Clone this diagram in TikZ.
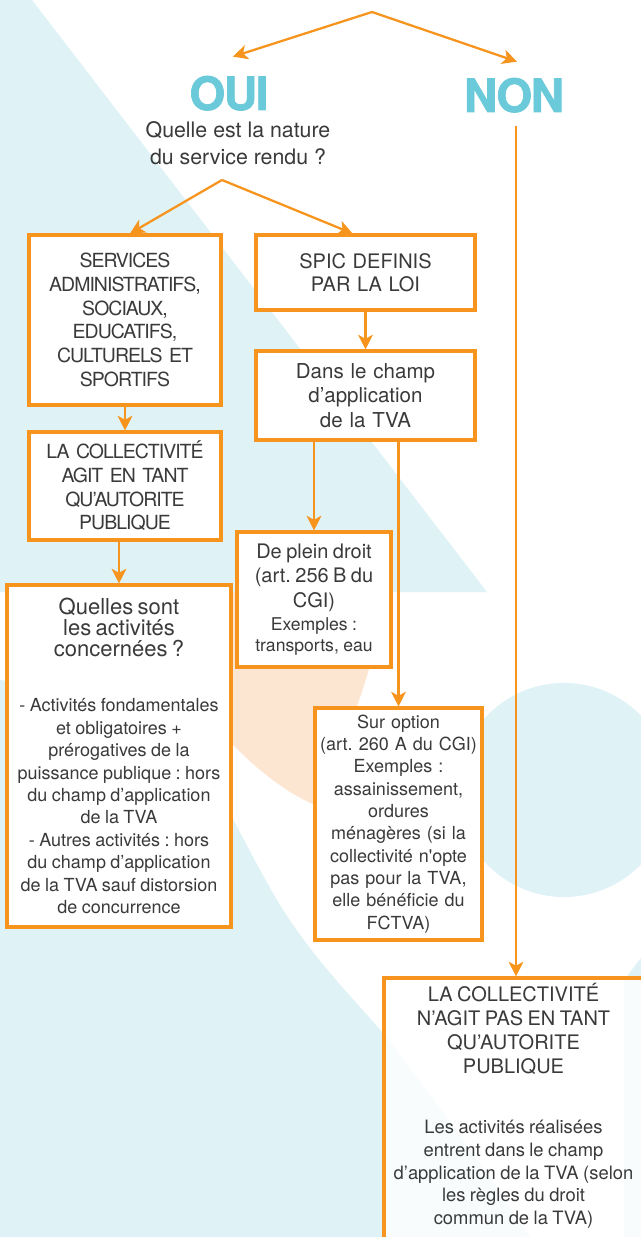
\documentclass[tikz,border=0pt]{standalone}
\usepackage{fontspec}
\setmainfont{TeX Gyre Heros}
\newfontfamily\capsfont{TeX Gyre Heros}[LetterSpace=-5]
\newfontfamily\yesnofont{TeX Gyre Heros}[LetterSpace=-3, BoldFeatures={FakeBold=1.5}]
\usetikzlibrary{arrows.meta,calc}

\definecolor{orng}{HTML}{F7941D}
\definecolor{skyblue}{HTML}{DFF2F6}
\definecolor{sand}{HTML}{FCE6D2}
\definecolor{yesblue}{HTML}{6BCAD9}
\definecolor{ink}{HTML}{3A3A3A}

\tikzset{
  box/.style={draw=orng, line width=2.3pt, fill=white, text=ink, align=center, inner xsep=2pt, inner ysep=2pt},
  capsbox/.style={box, font=\capsfont\fontsize{14.6}{17.8}\selectfont},
  lastbox/.style={box, fill opacity=0.8, text opacity=1},
  arr/.style={draw=orng, line width=1.7pt, -{Stealth[length=11pt,width=11pt,inset=3pt]}},
  yesno/.style={font=\yesnofont\bfseries\fontsize{34.5}{36}\selectfont, text=yesblue, inner sep=0pt},
}

\begin{document}
\frenchspacing
\begin{tikzpicture}[x=0.75pt,y=0.75pt,yscale=-1,xscale=1]
\useasboundingbox (0,0) rectangle (641,1237);
\clip (0,0) rectangle (641,1237);

%Background shapes
\fill[white] (0,0) rectangle (641,1237);
\fill[skyblue] (0,0) -- (32,0) -- (487,592) -- (0,592) -- cycle;
\fill[sand] (200,592) -- (385,592) .. controls (378,660) and (345,745) .. (315,805) .. controls (280,790) and (245,760) .. (215,725) -- cycle;
\fill[skyblue] (564,790) circle [radius=107];
\fill[skyblue] (0,680) -- (150,700) .. controls (200,740) and (230,820) .. (277,900) .. controls (310,955) and (350,995) .. (383,1033) .. controls (430,1095) and (480,1160) .. (530,1237) -- (0,1237) -- cycle;
\fill[skyblue] (641,958) -- (624,980) -- (624,1237) -- (641,1237) -- cycle;

% Text Node
\node[yesno, anchor=base] (oui) at (229,110) {OUI};
\node[yesno, anchor=base] (non) at (514,112) {NON};
\node[text=ink, align=center, inner sep=0pt, font=\fontsize{16}{20}\selectfont] (nature) at (238,143) {Quelle est la nature\\du service rendu ?};

\coordinate (top) at (372,12);
\coordinate (fork) at (222,180);

% Boxes
\node[capsbox, text width=140pt, minimum width=144pt, minimum height=127.5pt] (serv) at (125,320) {SERVICES\\ADMINISTRATIFS,\\SOCIAUX,\\EDUCATIFS,\\CULTURELS ET\\SPORTIFS};
\node[capsbox, text width=140pt, minimum width=144pt, minimum height=81pt] (lacoll) at (125,486) {LA COLLECTIVITÉ\\AGIT EN TANT\\QU’AUTORITE\\PUBLIQUE};
\node[box, text width=164pt, minimum width=168pt, minimum height=256.5pt] (quel) at (119,756) {{\fontsize{16.5}{15.75}\selectfont Quelles sont\\les activités\\concernées ?\par}\vspace{24.5pt}{\fontsize{13.5}{16.8}\selectfont - Activités fondamentales\\et obligatoires +\\prérogatives de la\\puissance publique : hors\\du champ d’application\\de la TVA\\- Autres activités : hors\\du champ d’application\\de la TVA sauf distorsion\\de concurrence\par}};
\node[box, text width=160pt, minimum width=164.25pt, minimum height=56.25pt, font=\fontsize{15}{17.25}\selectfont] (spic) at (365.5,272.5) {SPIC DEFINIS\\PAR LA LOI};
\node[box, text width=160pt, minimum width=164.25pt, minimum height=66.75pt, font=\fontsize{15.4}{18.4}\selectfont] (dans) at (365.5,395.5) {Dans le champ\\d’application\\de la TVA};
\node[box, text width=111pt, minimum width=115.5pt, minimum height=101.25pt] (plein) at (314,599.5) {{\fontsize{15}{18.4}\selectfont De plein droit\\(art. 256 B du\\CGI)\par}\vspace{2pt}{\fontsize{13.2}{15.75}\selectfont Exemples :\\transports, eau\par}};
\node[box, text width=121pt, minimum width=125.25pt, minimum height=174pt, font=\fontsize{13.5}{16.75}\selectfont] (sur) at (398.5,824) {Sur option\\(art. 260 A du CGI)\\Exemples :\\assainissement,\\ordures\\ménagères (si la\\collectivité n\textquotesingle opte\\pas pour la TVA,\\elle bénéficie du\\FCTVA)};
\node[lastbox, text width=190pt, minimum width=194.25pt, minimum height=200pt] (pasauto) at (513.5,1111.3) {{\fontsize{15}{18}\selectfont LA COLLECTIVITÉ\\N’AGIT PAS EN TANT\\QU’AUTORITE\\PUBLIQUE\par}\vspace{28pt}{\fontsize{13.8}{17}\selectfont Les activités réalisées\\entrent dans le champ\\d’application de la TVA (selon\\les règles du droit\\commun de la TVA)\par}\vspace{8pt}};

%Straight Lines
\draw[arr] (top) -- ($(oui.north)+(4,-19)$);
\draw[arr] (top) -- ($(non.north)+(3,-16)$);
\coordinate (nonfoot) at ($(non.south)+(2,13)$);
\draw[arr] (nonfoot) -- (nonfoot |- pasauto.north);
\draw[arr] (fork) -- ($(serv.north)+(5,0)$);
\draw[arr] (fork) -- ($(spic.north)+(-13,0)$);
\draw[arr] (serv) -- (lacoll);
\draw[arr] (lacoll.south -| quel.north) -- (quel.north);
\draw[arr] (spic) -- (dans);
\draw[arr] (dans.south -| plein.north) -- (plein.north);
\draw[arr] (dans.south -| sur.north) -- (sur.north);

\end{tikzpicture}
\end{document}
